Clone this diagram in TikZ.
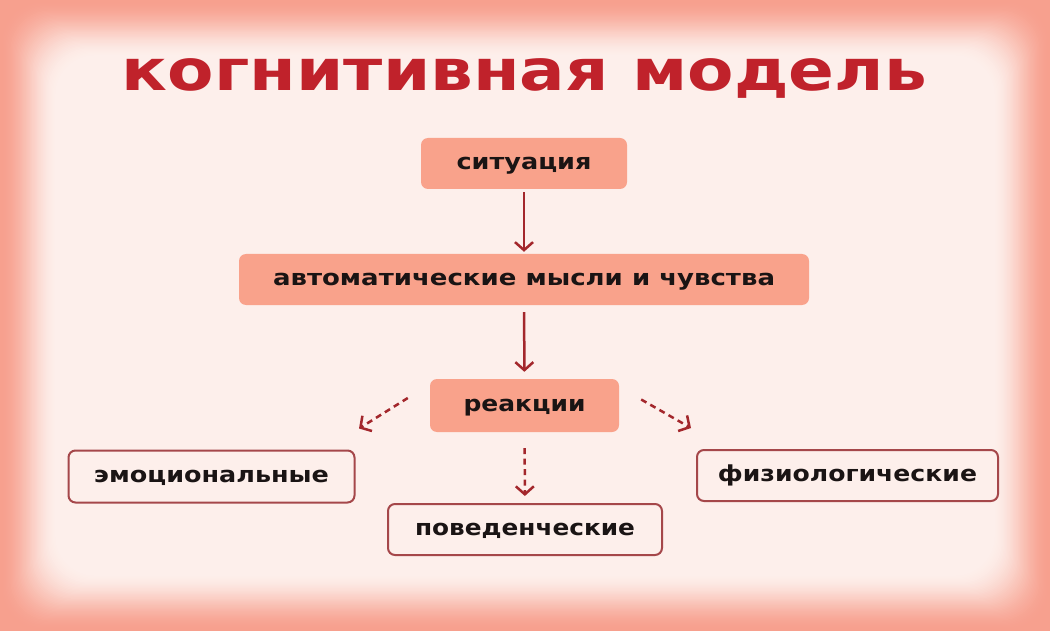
\documentclass[tikz,border=0pt]{standalone}
\usepackage{fontspec}
\setmainfont{DejaVu Sans}
\usetikzlibrary{arrows.meta,calc}
\definecolor{salmon}{HTML}{F7A08E}
\definecolor{pale}{HTML}{FDEFEB}
\definecolor{boxfill}{HTML}{F9A28B}
\definecolor{titlered}{HTML}{C0222B}
\definecolor{arrowred}{HTML}{A3272C}
\definecolor{outline}{HTML}{A5474A}
\definecolor{ink}{HTML}{1A1414}
\newcommand{\lbl}[2]{\resizebox{#1}{\height}{\bfseries #2}}
\begin{document}
\begin{tikzpicture}[x=1pt,y=-1pt,
  filled/.style={rectangle, rounded corners=7pt, fill=boxfill, minimum height=51pt,
    text height=12pt, text depth=0pt, inner sep=0pt, text=ink,
    font=\fontsize{22}{24}\selectfont},
  outlined/.style={filled, fill=pale, draw=outline, line width=2pt},
  flow/.style={draw=arrowred, line width=2.5pt, -{Straight Barb[length=8pt,width=18pt]}},
  dflow/.style={flow, dash pattern=on 6pt off 4.5pt}]
\useasboundingbox (0,0) rectangle (1050,631);
\fill[salmon] (0,0) rectangle (1050,631);
\foreach \i in {0,...,50}{
  \pgfmathsetmacro\s{\i/50}
  \pgfmathsetmacro\t{100*\s*\s*(3-2*\s)}
  \pgfmathsetmacro\d{\i*1.15}
  \fill[pale!\t!salmon, rounded corners=40pt] (\d,\d) rectangle ({1050-\d},{631-\d});
}
% title
\node[anchor=base, text=titlered, inner sep=0pt, font=\fontsize{57}{64}\selectfont]
  (title) at (524.5,91) {\resizebox{805pt}{\height}{\bfseries когнитивная модель}};
% boxes
\node[filled, minimum width=206pt] (sit) at (524,163.5) {\lbl{135pt}{ситуация}};
\node[filled, minimum width=570pt] (auto) at (524,279.5) {\lbl{502pt}{автоматические мысли и чувства}};
\node[filled, minimum width=189pt, minimum height=53pt] (reac) at (524.5,405.5) {\lbl{122pt}{реакции}};
\node[outlined, minimum width=286pt, minimum height=52pt] (emo) at (211.5,476.5) {\lbl{235pt}{эмоциональные}};
\node[outlined, minimum width=274pt] (pov) at (525,529.5) {\lbl{220pt}{поведенческие}};
\node[outlined, minimum width=301pt] (fiz) at (847.5,475.5) {\lbl{259pt}{физиологические}};
% connectors
\draw[flow, shorten <=3pt, shorten >=2pt] (sit) -- (auto);
\draw[flow, shorten <=7pt, shorten >=7pt] (auto) -- (reac);
\draw[dflow, shorten <=16pt, shorten >=7pt] (reac) -- (pov);
\draw[dflow] ($(reac.west)+(-22,-7.5)$) -- ($(emo.north east)+(3.5,-21)$);
\draw[dflow] ($(reac.east)+(22,-6)$) -- ($(fiz.north west)+(-5,-21)$);
\end{tikzpicture}
\end{document}
